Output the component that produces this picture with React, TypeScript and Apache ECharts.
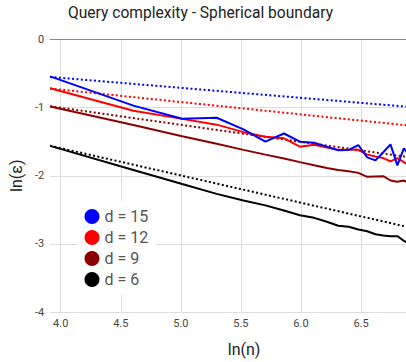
import React, { useEffect, useRef } from "react";
import * as echarts from "echarts";

const lnN = [3.912, 4.605, 5.011, 5.298, 5.521, 5.704, 5.858, 5.991, 6.109, 6.215, 6.31, 6.397, 6.477, 6.551, 6.62, 6.685, 6.745, 6.802, 6.856, 6.908];
const d15 = [-0.542, -0.971, -1.163, -1.149, -1.32, -1.5, -1.38, -1.5, -1.515, -1.572, -1.626, -1.621, -1.549, -1.73, -1.775, -1.655, -1.539, -1.847, -1.597, -1.72];
const d12 = [-0.715, -1.045, -1.165, -1.25, -1.36, -1.428, -1.45, -1.573, -1.545, -1.587, -1.62, -1.62, -1.62, -1.69, -1.717, -1.74, -1.79, -1.74, -1.8, -1.857];
const d9 = [-0.983, -1.256, -1.419, -1.53, -1.62, -1.69, -1.746, -1.8, -1.847, -1.886, -1.915, -1.934, -1.958, -2.016, -2.01, -2.006, -2.07, -2.088, -2.07, -2.117];
const d6 = [-1.561, -1.915, -2.122, -2.266, -2.363, -2.435, -2.51, -2.58, -2.618, -2.676, -2.734, -2.748, -2.79, -2.815, -2.858, -2.878, -2.887, -2.887, -2.955, -3.0];

const fitX = [3.912, 6.908];
const fit15 = [-0.55, -0.99];
const fit12 = [-0.72, -1.265];
const fit9 = [-0.98, -1.73];
const fit6 = [-1.56, -2.76];

const names = ["d = 15", "d = 12", "d = 9", "d = 6"];
const colors = ["#0000ff", "#ff0000", "#8b0000", "#000000"];

const FONT = "Roboto";
const X_MIN = 3.912;
const X_MAX = 6.874;

export default function App() {
  const ref = useRef<HTMLDivElement>(null);
  useEffect(() => {
    if (!ref.current) return;
    const chart = echarts.init(ref.current, null, { renderer: "svg" });
    const solid = [d15, d12, d9, d6];
    const fits = [fit15, fit12, fit9, fit6];
    const series: any[] = [];
    solid.forEach((arr, i) => {
      series.push({
        name: names[i],
        type: "line",
        data: lnN.map((x, j) => [x, arr[j]]),
        showSymbol: false,
        symbol: "none",
        clip: true,
        lineStyle: { color: colors[i], width: 2 },
        itemStyle: { color: colors[i] },
        z: 3 + (4 - i),
      });
    });
    fits.forEach((arr, i) => {
      series.push({
        name: names[i] + " fit",
        type: "line",
        data: fitX.map((x, j) => [x, arr[j]]),
        showSymbol: false,
        symbol: "none",
        clip: true,
        lineStyle: { color: colors[i], width: 2, type: [2, 2.4] },
        itemStyle: { color: colors[i] },
        z: 2,
      });
    });
    chart.setOption({
      animation: false,
      title: {
        text: "Query complexity - Spherical boundary",
        left: 63,
        top: 0,
        textStyle: { fontFamily: FONT, fontSize: 15.6, fontWeight: "normal", color: "#222" },
      },
      legend: {
        data: names,
        orient: "vertical",
        left: 77,
        top: 201,
        padding: 7.5,
        itemGap: 5,
        itemWidth: 15,
        itemHeight: 15,
        itemTextGap: 5.5,
        icon: "circle",
        backgroundColor: "#ffffff",
        textStyle: { fontFamily: FONT, fontSize: 16, color: "#555" },
      },
      grid: { left: 47.4, right: 0, top: 39.5, bottom: 45.3, containLabel: false },
      xAxis: [
        {
          type: "value",
          min: X_MIN,
          max: X_MAX,
          splitNumber: 6,
          name: "ln(n)",
          nameLocation: "middle",
          nameGap: 29,
          nameTextStyle: { fontFamily: FONT, fontSize: 16, color: "#222", padding: [0, 0, 0, 32] },
          axisLine: { show: false },
          axisTick: { show: false },
          axisLabel: {
            showMinLabel: false,
            showMaxLabel: false,
            margin: 6,
            fontFamily: FONT,
            fontSize: 11,
            color: "#444",
            formatter: (v: number) => v.toFixed(1),
          },
          splitLine: { show: true, showMinLine: false, showMaxLine: false, lineStyle: { color: "#dddddd", width: 1 } },
        },
        {
          type: "value",
          position: "top",
          min: X_MIN,
          max: X_MAX,
          axisLine: { show: true, onZero: false, lineStyle: { color: "#888", width: 1.2 } },
          axisTick: { show: false },
          axisLabel: { show: false },
          splitLine: { show: false },
        },
      ],
      yAxis: {
        type: "value",
        min: -4,
        max: 0,
        interval: 1,
        name: "ln(ε)",
        nameLocation: "middle",
        nameGap: 22,
        nameTextStyle: { fontFamily: FONT, fontSize: 16, color: "#222" },
        axisLine: { show: false },
        axisTick: { show: false },
        axisLabel: { margin: 6, fontFamily: FONT, fontSize: 11, color: "#444" },
        splitLine: { show: true, lineStyle: { color: "#dddddd", width: 1 } },
      },
      series,
    });
    return () => chart.dispose();
  }, []);
  return (
    <div
      ref={ref}
      style={{ position: "fixed", left: 0, top: 0, width: 406, height: 362, background: "#fff" }}
    />
  );
}
